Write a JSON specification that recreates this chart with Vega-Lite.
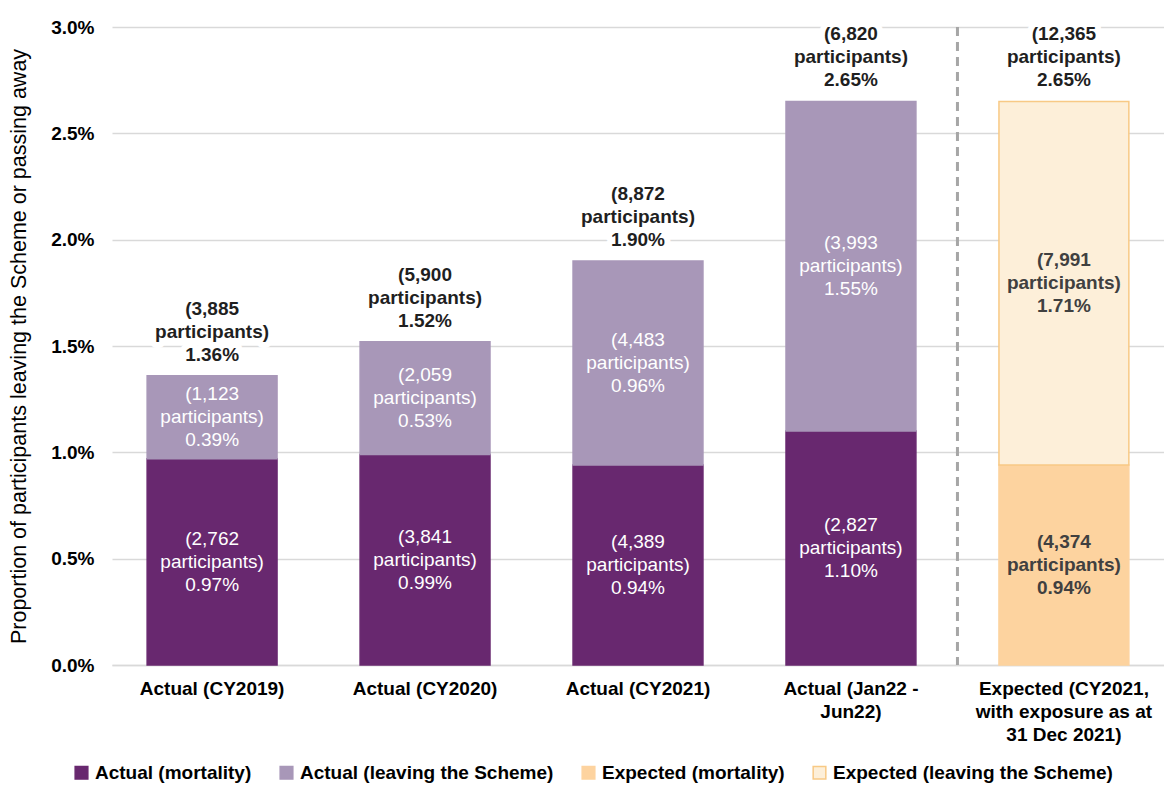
{
  "$schema": "https://vega.github.io/schema/vega-lite/v6.json",
  "width": 1052,
  "height": 638,
  "autosize": {"type": "none"},
  "padding": {"left": 112, "top": 27, "right": 0, "bottom": 120},
  "background": "white",
  "config": {
    "font": "Liberation Sans",
    "view": {"stroke": null},
    "axis": {"labelColor": "#000000", "titleColor": "#000000"}
  },
  "datasets": {
    "segs": [
      {"cat": "Actual (CY2019)", "series": "Actual (mortality)", "value": 0.0097, "label": "(2,762|participants)|0.97%"},
      {"cat": "Actual (CY2019)", "series": "Actual (leaving the Scheme)", "value": 0.0039, "label": "(1,123|participants)|0.39%"},
      {"cat": "Actual (CY2020)", "series": "Actual (mortality)", "value": 0.0099, "label": "(3,841|participants)|0.99%"},
      {"cat": "Actual (CY2020)", "series": "Actual (leaving the Scheme)", "value": 0.0053, "label": "(2,059|participants)|0.53%"},
      {"cat": "Actual (CY2021)", "series": "Actual (mortality)", "value": 0.0094, "label": "(4,389|participants)|0.94%"},
      {"cat": "Actual (CY2021)", "series": "Actual (leaving the Scheme)", "value": 0.0096, "label": "(4,483|participants)|0.96%"},
      {"cat": "Actual (Jan22 - Jun22)", "series": "Actual (mortality)", "value": 0.0110, "label": "(2,827|participants)|1.10%"},
      {"cat": "Actual (Jan22 - Jun22)", "series": "Actual (leaving the Scheme)", "value": 0.0155, "label": "(3,993|participants)|1.55%"},
      {"cat": "Expected (CY2021, with exposure as at 31 Dec 2021)", "series": "Expected (mortality)", "value": 0.0094, "label": "(4,374|participants)|0.94%"},
      {"cat": "Expected (CY2021, with exposure as at 31 Dec 2021)", "series": "Expected (leaving the Scheme)", "value": 0.0171, "label": "(7,991|participants)|1.71%"}
    ],
    "totals": [
      {"cat": "Actual (CY2019)", "total": 0.0136, "label": "(3,885|participants)|1.36%"},
      {"cat": "Actual (CY2020)", "total": 0.0152, "label": "(5,900|participants)|1.52%"},
      {"cat": "Actual (CY2021)", "total": 0.0190, "label": "(8,872|participants)|1.90%"},
      {"cat": "Actual (Jan22 - Jun22)", "total": 0.0265, "label": "(6,820|participants)|2.65%"},
      {"cat": "Expected (CY2021, with exposure as at 31 Dec 2021)", "total": 0.0265, "label": "(12,365|participants)|2.65%"}
    ],
    "divider": [
      {"cat": "Expected (CY2021, with exposure as at 31 Dec 2021)"}
    ]
  },
  "layer": [
    {
      "data": {"name": "segs"},
      "transform": [
        {"stack": "value", "groupby": ["cat"], "sort": [{"field": "series", "order": "descending"}], "as": ["v0", "v1"]}
      ],
      "mark": {"type": "bar", "strokeWidth": 1.5},
      "encoding": {
        "x": {
          "field": "cat", "type": "nominal",
          "scale": {"domain": ["Actual (CY2019)", "Actual (CY2020)", "Actual (CY2021)", "Actual (Jan22 - Jun22)", "Expected (CY2021, with exposure as at 31 Dec 2021)"], "paddingInner": 0.39, "paddingOuter": 0.165},
          "axis": {
            "title": null, "labelAngle": 0, "labelFontSize": 19, "labelFontWeight": "bold",
            "labelPadding": 14, "labelLineHeight": 23, "labelBaseline": "top", "labelLimit": 300,
            "ticks": false, "domainColor": "#d9d9d9", "domainWidth": 1.5,
            "labelExpr": "datum.value == 'Actual (Jan22 - Jun22)' ? ['Actual (Jan22 -', 'Jun22)'] : datum.value == 'Expected (CY2021, with exposure as at 31 Dec 2021)' ? ['Expected (CY2021,', 'with exposure as at', '31 Dec 2021)'] : datum.label"
          }
        },
        "y": {
          "field": "v0", "type": "quantitative",
          "scale": {"domain": [0, 0.03]},
          "axis": {
            "title": "Proportion of participants leaving the Scheme or passing away",
            "titleFontSize": 21.5, "titleFontWeight": "normal", "titlePadding": 20,
            "format": ".1%", "values": [0, 0.005, 0.01, 0.015, 0.02, 0.025, 0.03],
            "labelFontSize": 19, "labelFontWeight": "bold", "labelPadding": 18,
            "ticks": false, "domain": false, "gridColor": "#d9d9d9", "gridWidth": 1.3
          }
        },
        "y2": {"field": "v1"},
        "color": {
          "field": "series", "type": "nominal",
          "scale": {
            "domain": ["Actual (mortality)", "Actual (leaving the Scheme)", "Expected (mortality)", "Expected (leaving the Scheme)"],
            "range": ["#68286f", "#a897b8", "#fdd39f", "#fdefd9"]
          },
          "legend": {
            "title": null, "orient": "none", "legendX": -40, "legendY": 736,
            "direction": "horizontal", "columns": 4, "columnPadding": 25,
            "symbolType": "square", "symbolSize": 160, "symbolStrokeWidth": 1.5,
            "labelFontSize": 19, "labelFontWeight": "bold", "labelColor": "#000000", "labelLimit": 400
          }
        },
        "stroke": {
          "field": "series", "type": "nominal",
          "scale": {
            "domain": ["Actual (mortality)", "Actual (leaving the Scheme)", "Expected (mortality)", "Expected (leaving the Scheme)"],
            "range": ["#68286f", "#a897b8", "#fdd39f", "#f8c985"]
          },
          "legend": {
            "title": null, "orient": "none", "legendX": -40, "legendY": 736,
            "direction": "horizontal", "columns": 4, "columnPadding": 25,
            "symbolType": "square", "symbolSize": 160, "symbolStrokeWidth": 1.5,
            "labelFontSize": 19, "labelFontWeight": "bold", "labelColor": "#000000", "labelLimit": 400
          }
        }
      }
    },
    {
      "data": {"name": "divider"},
      "mark": {"type": "rule", "color": "#a6a6a6", "strokeWidth": 3, "strokeDash": [9, 6], "xOffset": -41.5},
      "encoding": {
        "x": {
          "field": "cat", "type": "nominal", "bandPosition": 0,
          "scale": {"domain": ["Actual (CY2019)", "Actual (CY2020)", "Actual (CY2021)", "Actual (Jan22 - Jun22)", "Expected (CY2021, with exposure as at 31 Dec 2021)"]}
        }
      }
    },
    {
      "data": {"name": "segs"},
      "transform": [
        {"stack": "value", "groupby": ["cat"], "sort": [{"field": "series", "order": "descending"}], "as": ["v0", "v1"]},
        {"calculate": "(datum.v0 + datum.v1) / 2", "as": "mid"},
        {"filter": "indexof(datum.series, 'Actual') == 0"}
      ],
      "mark": {"type": "text", "color": "#ffffff", "fontSize": 19, "lineBreak": "|", "lineHeight": 23, "baseline": "middle", "dy": -23},
      "encoding": {
        "x": {"field": "cat", "type": "nominal", "scale": {"domain": ["Actual (CY2019)", "Actual (CY2020)", "Actual (CY2021)", "Actual (Jan22 - Jun22)", "Expected (CY2021, with exposure as at 31 Dec 2021)"]}},
        "y": {"field": "mid", "type": "quantitative"},
        "text": {"field": "label"}
      }
    },
    {
      "data": {"name": "segs"},
      "transform": [
        {"stack": "value", "groupby": ["cat"], "sort": [{"field": "series", "order": "descending"}], "as": ["v0", "v1"]},
        {"calculate": "(datum.v0 + datum.v1) / 2", "as": "mid"},
        {"filter": "indexof(datum.series, 'Expected') == 0"}
      ],
      "mark": {"type": "text", "color": "#404040", "fontSize": 19, "fontWeight": "bold", "lineBreak": "|", "lineHeight": 23, "baseline": "middle", "dy": -23},
      "encoding": {
        "x": {"field": "cat", "type": "nominal", "scale": {"domain": ["Actual (CY2019)", "Actual (CY2020)", "Actual (CY2021)", "Actual (Jan22 - Jun22)", "Expected (CY2021, with exposure as at 31 Dec 2021)"]}},
        "y": {"field": "mid", "type": "quantitative"},
        "text": {"field": "label"}
      }
    },
    {
      "data": {"name": "totals"},
      "mark": {"type": "text", "color": "#ffffff", "stroke": "#ffffff", "strokeWidth": 12, "strokeJoin": "round", "fontSize": 19, "fontWeight": "bold", "lineBreak": "|", "lineHeight": 23, "baseline": "bottom", "dy": -57},
      "encoding": {
        "x": {"field": "cat", "type": "nominal", "scale": {"domain": ["Actual (CY2019)", "Actual (CY2020)", "Actual (CY2021)", "Actual (Jan22 - Jun22)", "Expected (CY2021, with exposure as at 31 Dec 2021)"]}},
        "y": {"field": "total", "type": "quantitative"},
        "text": {"field": "label"}
      }
    },
    {
      "data": {"name": "totals"},
      "mark": {"type": "text", "color": "#1f1f1f", "fontSize": 19, "fontWeight": "bold", "lineBreak": "|", "lineHeight": 23, "baseline": "bottom", "dy": -57},
      "encoding": {
        "x": {"field": "cat", "type": "nominal", "scale": {"domain": ["Actual (CY2019)", "Actual (CY2020)", "Actual (CY2021)", "Actual (Jan22 - Jun22)", "Expected (CY2021, with exposure as at 31 Dec 2021)"]}},
        "y": {"field": "total", "type": "quantitative"},
        "text": {"field": "label"}
      }
    }
  ]
}
